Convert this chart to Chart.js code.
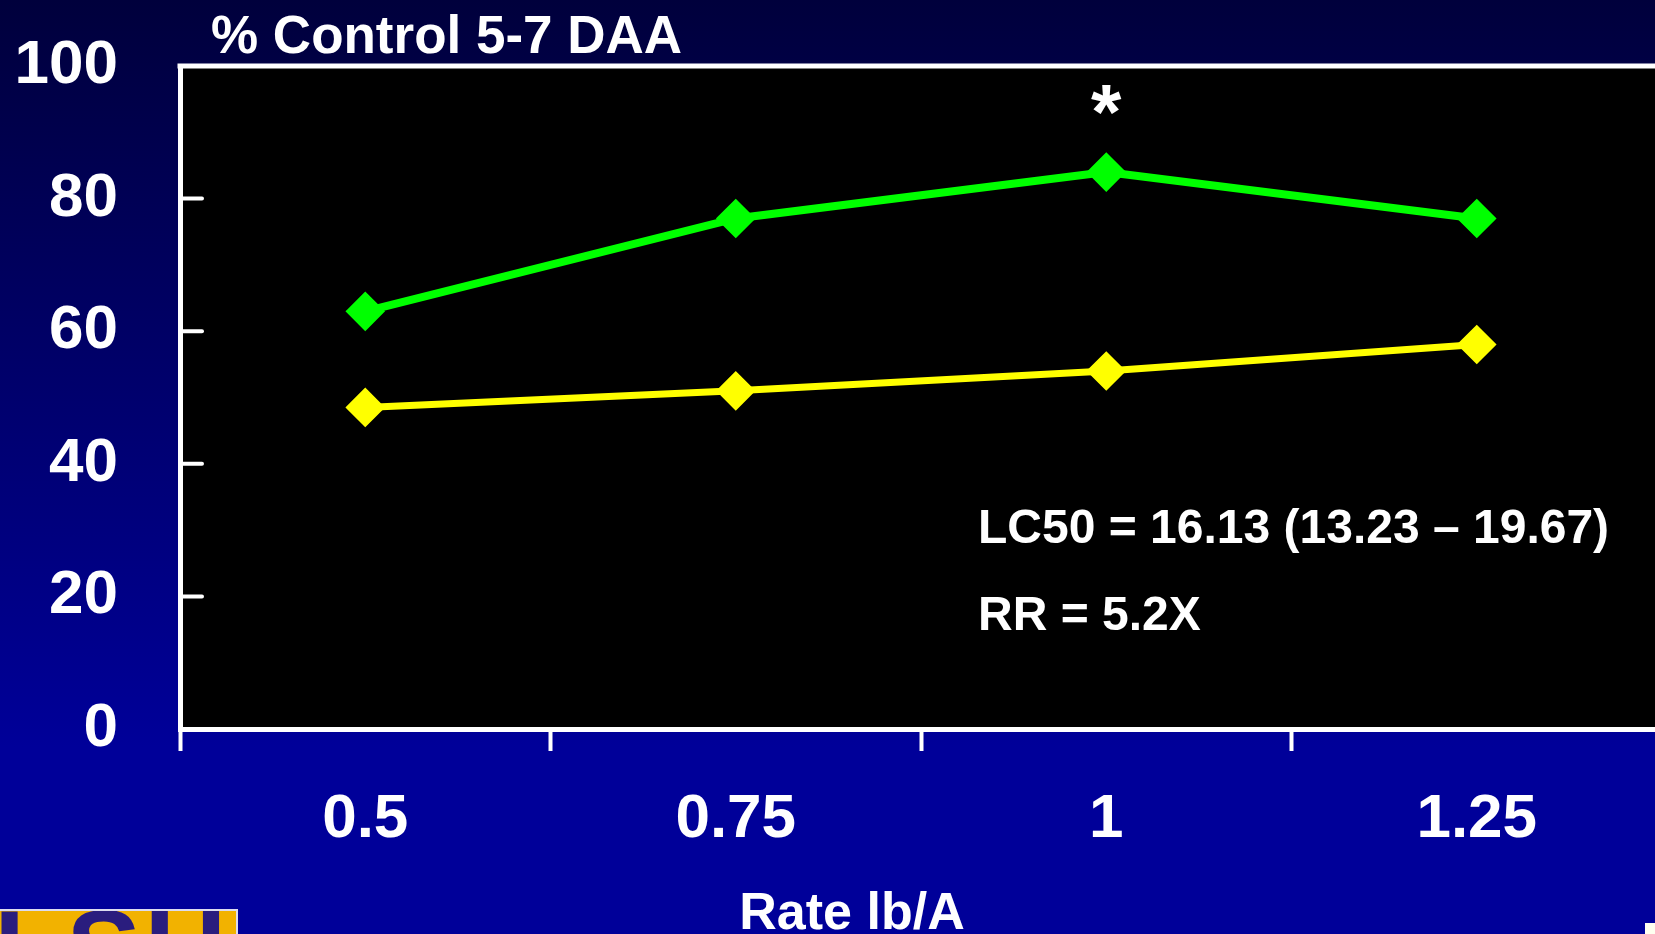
<!DOCTYPE html>
<html>
<head>
<meta charset="utf-8">
<script src="https://cdn.jsdelivr.net/npm/chart.js@4/dist/chart.umd.min.js"></script>
<style>
  html, body {
    margin: 0;
    padding: 0;
    width: 1655px;
    height: 934px;
    overflow: hidden;
    background: linear-gradient(to bottom, #00003c 0%, #000099 80%, #000099 100%);
    font-family: "Liberation Sans", Arial, sans-serif;
  }
  #chart {
    position: absolute;
    left: 0;
    top: 0;
  }
  .logo {
    position: absolute;
    left: 0;
    top: 909px;
    width: 236px;
    height: 25px;
    background: #f2b200;
    border-top: 2px solid #dcdcf0;
    border-right: 2px solid #dcdcf0;
    overflow: hidden;
  }
  .logo span {
    position: absolute;
    left: -6px;
    top: -17px;
    font: bold 112px "Liberation Sans", Arial, sans-serif;
    color: #2a1d7e;
    letter-spacing: 4px;
    line-height: 1;
  }
  .corner {
    position: absolute;
    right: 0;
    bottom: 0;
    width: 10px;
    height: 11px;
    background: #fffff0;
  }
</style>
</head>
<body>
<canvas id="chart" width="1662" height="934"></canvas>
<div class="logo"><span>LSU</span></div>
<div class="corner"></div>
<script>
// Data
const rates = ["0.5", "0.75", "1", "1.25"];
const greenControl = [63, 77, 84, 77];
const yellowControl = [48.5, 51, 54, 58];
const yTicks = [0, 20, 40, 60, 80, 100];

const chartTitle = "% Control 5-7 DAA";
const xTitle = "Rate lb/A";
const noteLines = ["LC50 = 16.13 (13.23 \u2013 19.67)", "RR = 5.2X"];
const starIndex = 2;

const FONT = '"Liberation Sans", Arial, sans-serif';

// black plot area, top border, inner y ticks and slide text
const slidePlugin = {
  id: "slide",
  beforeDraw(chart) {
    const { ctx, chartArea } = chart;
    ctx.save();
    ctx.fillStyle = "#000000";
    ctx.fillRect(chartArea.left, chartArea.top, chartArea.right - chartArea.left, chartArea.bottom - chartArea.top);
    ctx.restore();
  },
  afterDraw(chart) {
    const { ctx, chartArea, scales } = chart;
    ctx.save();
    ctx.strokeStyle = "#ffffff";
    ctx.lineWidth = 5;
    ctx.beginPath();
    ctx.moveTo(chartArea.left - 2.5, chartArea.top);
    ctx.lineTo(chartArea.right, chartArea.top);
    ctx.stroke();

    // y ticks point into the plot
    ctx.lineWidth = 4;
    ctx.lineCap = "round";
    yTicks.slice(1, -1).forEach((v) => {
      const y = scales.y.getPixelForValue(v);
      ctx.beginPath();
      ctx.moveTo(chartArea.left, y);
      ctx.lineTo(chartArea.left + 22, y);
      ctx.stroke();
    });

    ctx.fillStyle = "#ffffff";
    ctx.textBaseline = "alphabetic";
    ctx.textAlign = "left";
    ctx.font = "bold 53px " + FONT;
    ctx.fillText(chartTitle, 211, 53);

    ctx.font = "bold 48px " + FONT;
    ctx.fillText(noteLines[0], 978, 543);
    ctx.fillText(noteLines[1], 978, 630);

    ctx.textAlign = "center";
    ctx.font = "bold 52px " + FONT;
    ctx.fillText(xTitle, 852, 929);

    // asterisk over the peak point
    ctx.font = "bold 78px " + FONT;
    const sx = scales.x.getPixelForValue(starIndex);
    const sy = scales.y.getPixelForValue(greenControl[starIndex]);
    const m = ctx.measureText("*");
    const h = m.actualBoundingBoxAscent + m.actualBoundingBoxDescent;
    ctx.fillText("*", sx, sy - 72 + m.actualBoundingBoxAscent - h / 2);
    ctx.restore();
  }
};

new Chart(document.getElementById("chart"), {
  type: "line",
  data: {
    labels: rates,
    datasets: [
      {
        data: greenControl,
        borderColor: "#00ff00",
        backgroundColor: "#00ff00",
        borderWidth: 8,
        pointStyle: "rectRot",
        pointRadius: 17,
        pointBorderWidth: 4,
        tension: 0
      },
      {
        data: yellowControl,
        borderColor: "#ffff00",
        backgroundColor: "#ffff00",
        borderWidth: 7,
        pointStyle: "rectRot",
        pointRadius: 17,
        pointBorderWidth: 4,
        tension: 0
      }
    ]
  },
  options: {
    responsive: false,
    animation: false,
    layout: { autoPadding: false, padding: { top: 66, right: 0, left: 0, bottom: 0 } },
    plugins: {
      legend: { display: false },
      tooltip: { enabled: false }
    },
    scales: {
      x: {
        offset: true,
        grid: {
          offset: true,
          drawOnChartArea: false,
          drawTicks: true,
          tickLength: 22,
          tickWidth: 4,
          tickColor: "#ffffff"
        },
        border: { color: "#ffffff", width: 5 },
        ticks: {
          color: "#ffffff",
          font: { family: FONT, size: 62, weight: "bold" },
          padding: 32,
          maxRotation: 0
        },
        afterFit(scale) {
          scale.height = 934 - 729;
          scale.paddingLeft = 0;
          scale.paddingRight = 0;
        }
      },
      y: {
        min: 0,
        max: 100,
        afterBuildTicks(scale) { scale.ticks = yTicks.map((v) => ({ value: v })); },
        grid: { display: true, drawOnChartArea: false, drawTicks: false },
        border: { color: "#ffffff", width: 5 },
        ticks: {
          color: "#ffffff",
          font: { family: FONT, size: 62, weight: "bold" },
          padding: 62
        },
        afterFit(scale) {
          scale.width = 180;
          scale.paddingTop = 0;
          scale.paddingBottom = 0;
        }
      }
    }
  },
  plugins: [slidePlugin]
});
</script>
</body>
</html>
